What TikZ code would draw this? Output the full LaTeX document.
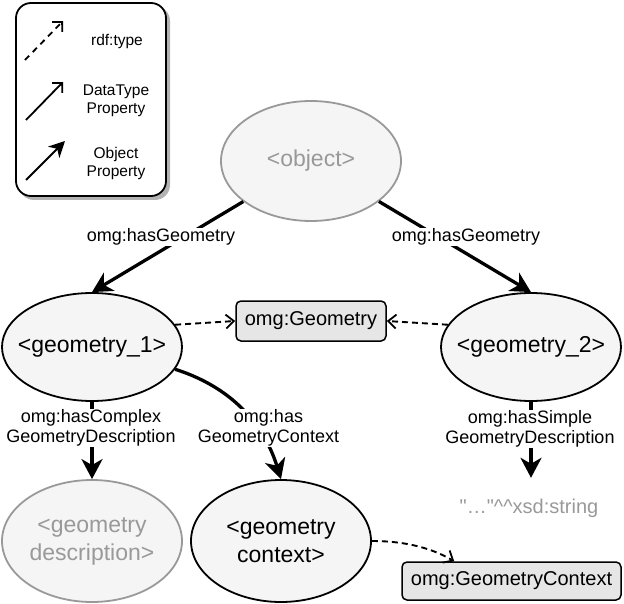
\documentclass[tikz,border=0pt]{standalone}
\usepackage{fontspec}
\setmainfont{Liberation Sans}
\newfontfamily\litfont{Liberation Sans}
\usetikzlibrary{arrows.meta,shapes.geometric}
\definecolor{nodefill}{HTML}{F5F5F5}
\definecolor{graytext}{HTML}{999999}
\definecolor{boxfill}{HTML}{E6E6E6}
\definecolor{shadowgray}{HTML}{B3B3B3}
\begin{document}
\begin{tikzpicture}[x=1pt,y=-1pt,
  res/.style={ellipse, draw=black, line width=1.8pt, fill=nodefill, minimum width=180pt, minimum height=108pt, inner sep=0pt},
  gres/.style={res, draw=graytext},
  restext/.style={font=\fontsize{23}{28}\selectfont, align=center, inner sep=0pt},
  grestext/.style={restext, text=graytext},
  cls/.style={rectangle, rounded corners=5pt, draw=black, line width=1.5pt, fill=boxfill, font=\fontsize{20}{24}\selectfont, inner sep=0pt},
  objprop/.style={line width=3.3pt, -{Stealth[length=20pt,width=21pt,inset=6pt]}},
  typeof/.style={line width=1.9pt, dash pattern=on 6pt off 4pt, -{Straight Barb[length=8pt,width=14pt,line width=1.8pt]}},
  lbl/.style={fill=white, font=\fontsize{18}{20}\selectfont, align=center, inner sep=1pt},
  legtext/.style={font=\fontsize{15.5}{18}\selectfont, align=center},
  legobj/.style={line width=1.8pt, -{Stealth[length=16pt,width=16pt,inset=5pt]}},
  legdt/.style={line width=1.8pt, -{Straight Barb[length=7pt,width=14pt,line width=1.8pt]}},
  legtype/.style={line width=1.8pt, dash pattern=on 6pt off 5pt, -{Straight Barb[length=7pt,width=14pt,line width=1.8pt]}}
]
\useasboundingbox (0,0) rectangle (624,604);

% legend
\fill[shadowgray, rounded corners=15pt] (19,6) rectangle (170,200);
\node[draw=black, line width=1.8pt, fill=white, rounded corners=15pt, minimum width=150pt, minimum height=193pt, inner sep=0pt] (leg) at (91,99.5) {};
\coordinate (l1a) at (25,60); \coordinate (l1b) at (63,21);
\coordinate (l2a) at (26,120); \coordinate (l2b) at (63,82);
\coordinate (l3a) at (26,180); \coordinate (l3b) at (65,141);
\draw[legtype] (l1a) -- (l1b);
\draw[legdt] (l2a) -- (l2b);
\draw[legobj] (l3a) -- (l3b);
\node[legtext] (t1) at (117,41) {rdf:type};
\node[legtext] (t2) at (116,101) {DataType\\Property};
\node[legtext] (t3) at (116,163) {Object\\Property};

% nodes
\node[gres, minimum height=120pt] (obj) at (311,161) {};
\node[grestext] (objt) at (obj) {<object>};
\node[res] (g1) at (92,347) {};
\node[restext] (g1t) at (g1) {<geometry\_1>};
\node[res] (g2) at (531,347) {};
\node[restext] (g2t) at (g2) {<geometry\_2>};
\node[cls, minimum width=150pt, minimum height=40pt] (geo) at (311,321) {omg:Geometry};
\node[gres, minimum height=122pt] (gdesc) at (92,541) {};
\node[grestext] (gdesct) at (gdesc) {<geometry\\description>};
\node[res, minimum height=122pt] (gctx) at (281,541) {};
\node[restext] (gctxt) at (gctx) {<geometry\\context>};
\node[cls, minimum width=219pt, minimum height=38pt] (gcbox) at (511.5,581) {omg:GeometryContext};
\node[text=graytext, font=\litfont\fontsize{20}{24}\selectfont, minimum height=60pt, inner sep=0pt] (lit) at (529,508) {"…"\textasciicircum\textasciicircum xsd:string};
\coordinate (gcin) at ([xshift=53pt]gcbox.north west);

% connectors
\draw[objprop] (obj) -- (g1.north);
\draw[objprop] (obj) -- (g2.north);
\draw[typeof] (g1.15) -- (geo.west);
\draw[typeof] (g2.165) -- (geo.east);
\draw[objprop] (g1.south) -- (gdesc.north);
\draw[objprop] (g1.-15) .. controls (225,385) and (262,418) .. (gctx.north);
\draw[objprop] (g2.south) -- (g2.south |- lit.north);
\draw[typeof] (gctx.east) .. controls (400,541) and (428,546) .. (gcin);

% labels
\node[lbl] (lb1) at (161,237) {omg:hasGeometry};
\node[lbl] (lb2) at (466,237) {omg:hasGeometry};
\node[lbl] (lb3) at (91,428) {omg:hasComplex\\GeometryDescription};
\node[lbl] (lb4) at (268.5,428) {omg:has\\GeometryContext};
\node[lbl] (lb5) at (530,429) {omg:hasSimple\\GeometryDescription};
\end{tikzpicture}
\end{document}
